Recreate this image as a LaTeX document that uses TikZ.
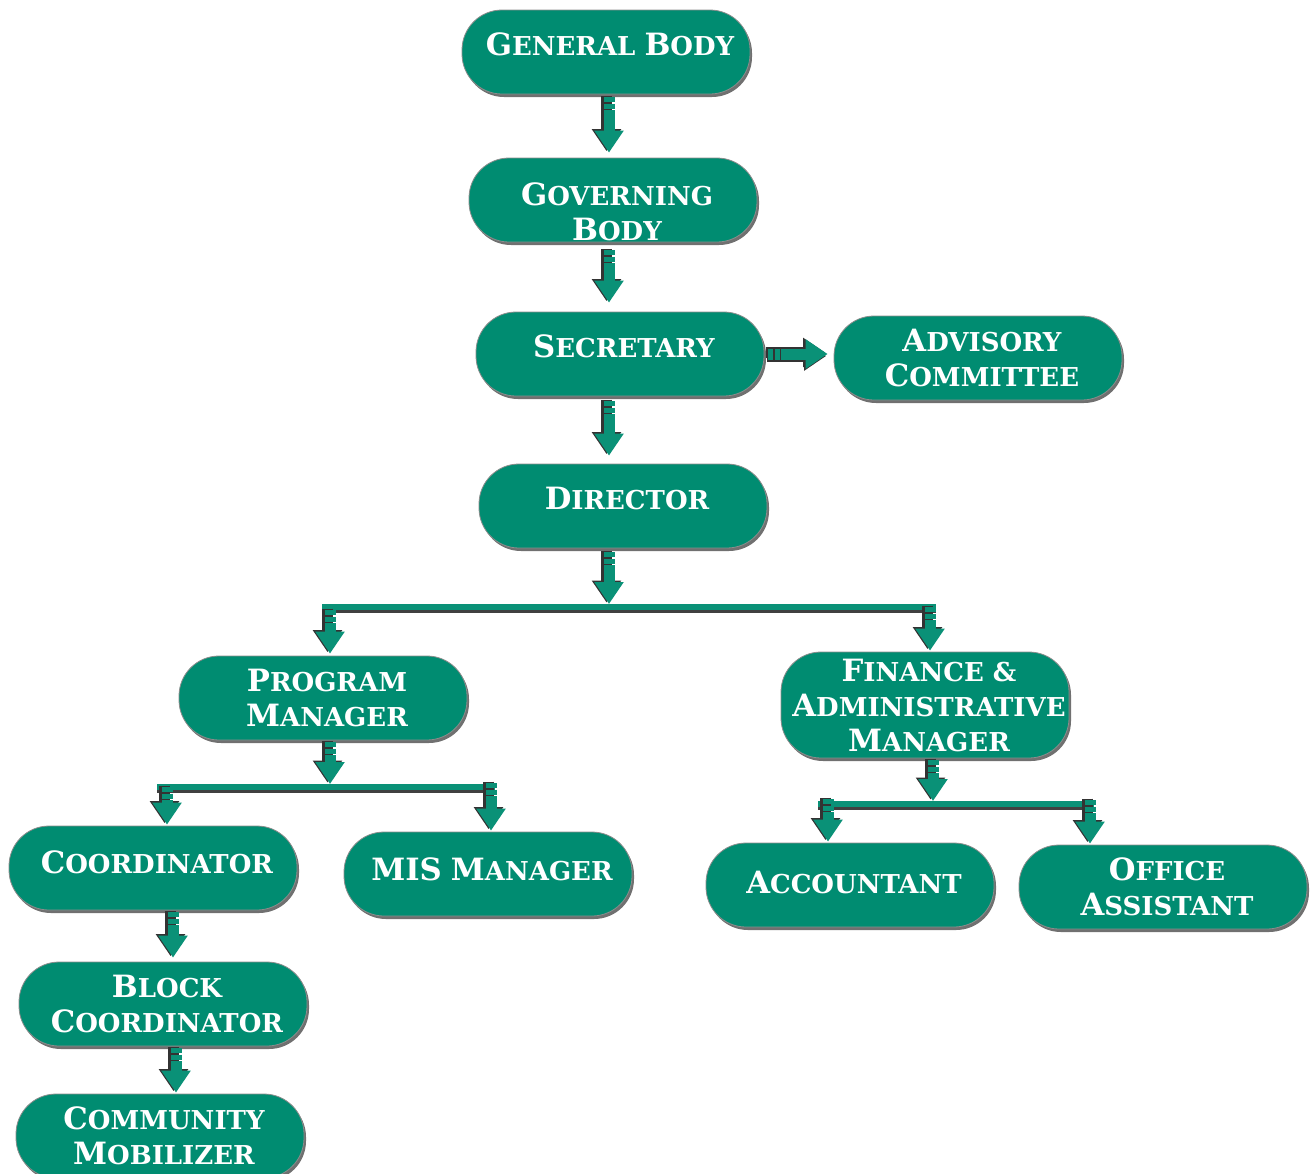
\documentclass[tikz,border=0pt]{standalone}
\usepackage{fontspec}
\setmainfont{DejaVu Serif}
\usetikzlibrary{shadows,arrows.meta}
\definecolor{tealbox}{HTML}{008C71}
\definecolor{tealarrow}{HTML}{0A9177}
\newcommand\capw[2]{{\fontsize{30.7}{35}\selectfont #1}{\fontsize{26}{35}\selectfont #2}}
\begin{document}
\begin{tikzpicture}[x=1pt,y=-1pt,
  lbl/.style={text=white, align=center, inner sep=0pt, xshift=4pt,
    font=\bfseries\fontsize{26}{35}\selectfont},
  box/.style n args={2}{rectangle, rounded corners=40pt, fill=tealbox, draw=black!45, line width=0.8pt,
    minimum width=288pt, minimum height=84pt, inner sep=0pt,
    drop shadow={shadow xshift=2pt, shadow yshift=-3pt, fill=black!70, opacity=0.8},
    label={[lbl, yshift=#2]center:{#1}}},
  blk/.style={draw=tealarrow, line width=11pt,
    -{Triangle[width=28pt,length=22pt]},
    dash pattern=on 5pt off 1.5pt on 5pt off 1.5pt on 600pt,
    preaction={draw=black!80, line width=11pt, -{Triangle[width=28pt,length=22pt]},
      transform canvas={shift={(-2.5pt,1.5pt)}}}},
  hblk/.style={blk, preaction={draw=black!80, line width=11pt, -{Triangle[width=28pt,length=22pt]},
      transform canvas={shift={(-1.5pt,-2pt)}}}},
  bar/.style={draw=tealarrow, line width=6pt,
    preaction={draw=black!75, line width=6pt, transform canvas={shift={(0pt,-2.5pt)}}}}
]
\useasboundingbox (0,0) rectangle (1314,1173);

% nodes
\node[box={\capw{G}{ENERAL} \capw{B}{ODY}}{7.5pt}] (gb) at (606,52) {};
\node[box={\capw{G}{OVERNING}\\\capw{B}{ODY}}{-12pt}] (gob) at (613,200) {};
\node[box={\capw{S}{ECRETARY}}{7.5pt}] (sec) at (620,354) {};
\node[box={\capw{A}{DVISORY}\\\capw{C}{OMMITTEE}}{0pt}] (adv) at (978,358) {};
\node[box={\capw{D}{IRECTOR}}{7.5pt}] (dir) at (623,506) {};
\node[box={\capw{P}{ROGRAM}\\\capw{M}{ANAGER}}{0pt}] (pm) at (323,698) {};
\node[box={\capw{F}{INANCE} \&\\\capw{A}{DMINISTRATIVE}\\\capw{M}{ANAGER}}{0pt}, minimum height=106pt] (fam) at (925,705) {};
\node[box={\capw{C}{OORDINATOR}}{6pt}] (coord) at (153,868) {};
\node[box={\capw{MIS}{} \capw{M}{ANAGER}}{5pt}] (mis) at (488,874) {};
\node[box={\capw{A}{CCOUNTANT}}{3pt}] (acc) at (850,885) {};
\node[box={\capw{O}{FFICE}\\\capw{A}{SSISTANT}}{0pt}] (oa) at (1163,887) {};
\node[box={\capw{B}{LOCK}\\\capw{C}{OORDINATOR}}{0pt}] (blc) at (163,1004) {};
\node[box={\capw{C}{OMMUNITY}\\\capw{M}{OBILIZER}}{0pt}] (cm) at (160,1136) {};

% column coordinates
\coordinate (xa) at (609,0);
\coordinate (xpm) at (330,0);
\coordinate (xfam) at (930,0);
\coordinate (xc) at (167,0);
\coordinate (xmis) at (491,0);
\coordinate (xf) at (933,0);
\coordinate (xacc) at (828,0);
\coordinate (xoa) at (1090,0);
\coordinate (xb) at (173,0);
\coordinate (xcm) at (176,0);

% bar coordinates
\coordinate (b1l) at (322,607);
\coordinate (b1r) at (936,607);
\coordinate (b1m) at (609,604);
\coordinate (b2l) at (157,787);
\coordinate (b2r) at (495,787);
\coordinate (b2m) at (330,784);
\coordinate (b3l) at (818,804);
\coordinate (b3r) at (1094,804);
\coordinate (b3m) at (933,801);

% bars
\draw[bar] (b1l) -- (b1r);
\draw[bar] (b2l) -- (b2r);
\draw[bar] (b3l) -- (b3r);

% straight arrows
\draw[blk, shorten <=3pt, shorten >=5pt] (gb.south -| xa) -- (gob.north -| xa);
\draw[blk, shorten <=8pt, shorten >=9pt] (gob.south -| xa) -- (sec.north -| xa);
\draw[blk, shorten <=5pt, shorten >=8pt] (sec.south -| xa) -- (dir.north -| xa);
\draw[hblk, shorten <=4pt, shorten >=6pt] (sec.east) -- (adv.west |- sec.east);
\draw[blk, shorten <=4pt] (dir.south -| xa) -- (b1m);

% from bar 1
\draw[blk, shorten >=2pt] (b1l -| xpm) ++(0,3) -- (pm.north -| xpm);
\draw[blk, shorten >=1pt] (b1r -| xfam) -- (fam.north -| xfam);

% program manager
\draw[blk, shorten <=2pt] (pm.south -| xpm) -- (b2m);
\draw[blk, shorten >=1pt] (b2l -| xc) -- (coord.north -| xc);
\draw[blk, shorten >=1pt] (b2r -| xmis) ++(0,-4) -- (mis.north -| xmis);

% finance
\draw[blk, shorten <=2pt] (fam.south -| xf) -- (b3m);
\draw[blk, shorten >=1pt] (b3l -| xacc) ++(0,-5) -- (acc.north -| xacc);
\draw[blk, shorten >=1pt] (b3r -| xoa) ++(0,-4) -- (oa.north -| xoa);

% lower column
\draw[blk, shorten <=2pt, shorten >=4pt] (coord.south -| xb) -- (blc.north -| xb);
\draw[blk, shorten <=2pt, shorten >=1pt] (blc.south -| xcm) -- (cm.north -| xcm);
\end{tikzpicture}
\end{document}
